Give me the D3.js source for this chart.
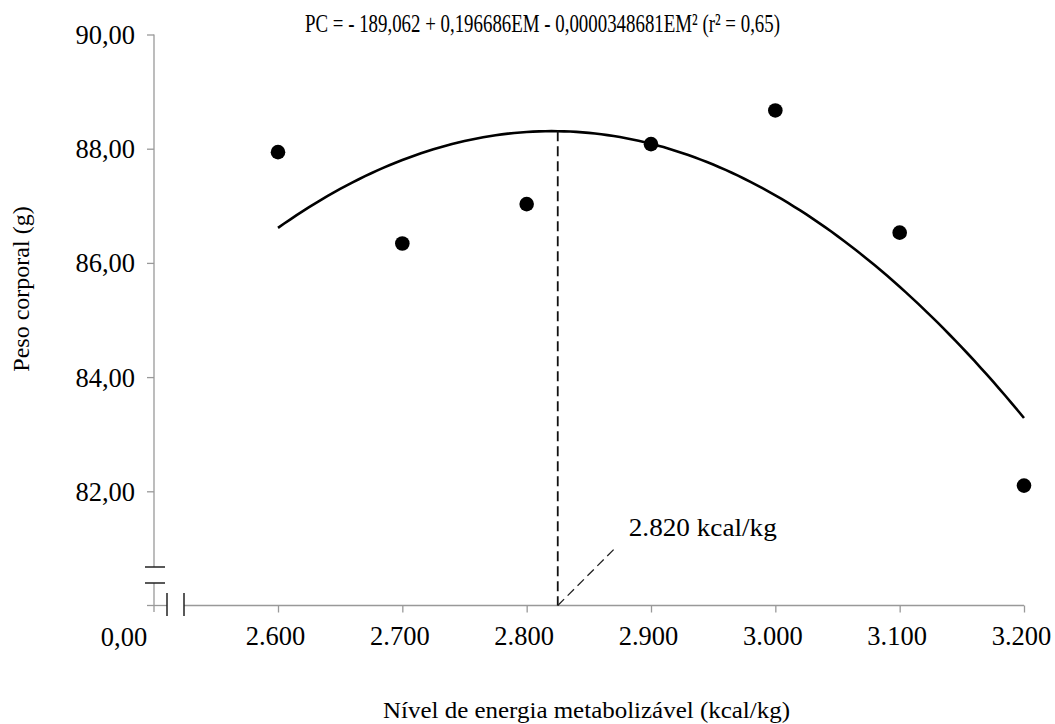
<!DOCTYPE html>
<html lang="pt">
<head>
  <meta charset="utf-8">
  <title></title>
  <script src="https://d3js.org/d3.v7.min.js"></script>
</head>
<style>
body { margin: 0; background: white; }
text { font-family: "Liberation Serif", "Times New Roman", serif; fill: black; }
.tick-label { font-size: 26.5px; }
.axis-line { stroke: #999; stroke-width: 1.3; fill: none; }
.break-mark { stroke: #222; stroke-width: 1.5; }
.trend { stroke: black; stroke-width: 2.6; fill: none; }
.dot { fill: black; }
</style>
<body>
<div class="chart"></div>
<script>
// energia metabolizavel (kcal/kg) e peso corporal (g)
var levels = [2600, 2700, 2800, 2900, 3000, 3100, 3200];
var weights = [87.94, 86.34, 87.03, 88.08, 88.67, 86.53, 82.10];
var xTickLabels = ["2.600", "2.700", "2.800", "2.900", "3.000", "3.100", "3.200"];
var yTicks = [82, 84, 86, 88, 90];
var yTickLabels = ["82,00", "84,00", "86,00", "88,00", "90,00"];
// PC = b0 + b1*EM + b2*EM^2
var coef = [-189.062, 0.196686, -0.0000348681];
var optimumLabel = "2.820 kcal/kg";
var optimumDrawn = 2825; // where the dashed line sits in the figure

var width = 1055, height = 724;
var svg = d3.select(".chart").append("svg")
  .attr("width", width)
  .attr("height", height);

var x = d3.scaleLinear().domain([2600, 3200]).range([278, 1024]);
var y = d3.scaleLinear().domain([80, 90]).range([605.5, 34.5]);

var pc = function(em) { return coef[0] + coef[1]*em + coef[2]*em*em; };

// y axis
var yAxis = svg.append("g")
  .attr("transform", "translate(154,0)")
  .call(d3.axisLeft(y).tickValues(yTicks).tickSize(7).tickFormat(function(d, i){ return yTickLabels[i]; }))
  .attr("font-family", null).attr("font-size", null);
yAxis.select(".domain").remove();
yAxis.selectAll(".tick line").attr("stroke", "#999").attr("stroke-width", 1.3);
yAxis.selectAll(".tick text").attr("class", "tick-label").attr("x", -19).attr("dy", "0.34em");

// y axis line with break
svg.append("line").attr("class", "axis-line")
  .attr("x1", 154).attr("x2", 154).attr("y1", y(90)).attr("y2", 567);
svg.append("line").attr("class", "axis-line")
  .attr("x1", 154).attr("x2", 154).attr("y1", 583).attr("y2", 612);
[567, 583].forEach(function(yy){
  svg.append("line").attr("class", "break-mark")
    .attr("x1", 145).attr("x2", 165).attr("y1", yy).attr("y2", yy);
});

// x axis
var xAxis = svg.append("g")
  .attr("transform", "translate(0," + y(80) + ")")
  .call(d3.axisBottom(x).tickValues(levels).tickSize(7).tickFormat(function(d, i){ return xTickLabels[i]; }))
  .attr("font-family", null).attr("font-size", null);
xAxis.select(".domain").remove();
xAxis.selectAll(".tick line").attr("stroke", "#999").attr("stroke-width", 1.3);
xAxis.selectAll(".tick text").attr("class", "tick-label").attr("y", 21).attr("dy", "0.71em").attr("dx", -3);

svg.append("line").attr("class", "axis-line")
  .attr("x1", 147).attr("x2", 167).attr("y1", y(80)).attr("y2", y(80));
svg.append("line").attr("class", "axis-line")
  .attr("x1", 184).attr("x2", x(3200)).attr("y1", y(80)).attr("y2", y(80));
[167, 184].forEach(function(xx){
  svg.append("line").attr("class", "break-mark")
    .attr("x1", xx).attr("x2", xx).attr("y1", 593).attr("y2", 616);
});
svg.append("text").attr("class", "tick-label")
  .attr("x", 124).attr("y", 646).attr("text-anchor", "middle").text("0,00");

// trend curve
var curvePts = d3.range(2600, 3200.1, 5).map(function(em){ return [em, pc(em)]; });
svg.append("path").attr("class", "trend")
  .attr("d", d3.line().x(function(d){ return x(d[0]); }).y(function(d){ return y(d[1]); })(curvePts));

// optimum dashed line and leader
svg.append("line")
  .attr("x1", x(optimumDrawn)).attr("x2", x(optimumDrawn))
  .attr("y1", y(pc(2820))).attr("y2", y(80))
  .attr("stroke", "#111").attr("stroke-width", 1.8).attr("stroke-dasharray", "10,5");
svg.append("line")
  .attr("x1", x(optimumDrawn)).attr("y1", y(80))
  .attr("x2", x(optimumDrawn + 45)).attr("y2", y(80.98))
  .attr("stroke", "#222").attr("stroke-width", 1.3).attr("stroke-dasharray", "9,5");
svg.append("text")
  .attr("x", x(optimumDrawn) + 71).attr("y", 536)
  .attr("font-size", "25px").attr("textLength", 148).attr("lengthAdjust", "spacingAndGlyphs")
  .text(optimumLabel);

// points
svg.selectAll(".dot").data(levels).enter().append("circle")
  .attr("class", "dot")
  .attr("cx", function(d){ return x(d); })
  .attr("cy", function(d, i){ return y(weights[i]); })
  .attr("r", 7.3);

// equation
svg.append("text")
  .attr("x", 305).attr("y", 32)
  .attr("font-size", "26px").attr("textLength", 475).attr("lengthAdjust", "spacingAndGlyphs")
  .text("PC = - 189,062 + 0,196686EM - 0,0000348681EM\u00b2  (r\u00b2 = 0,65)");

// axis titles
svg.append("text")
  .attr("x", 383).attr("y", 718)
  .attr("font-size", "24px").attr("textLength", 407).attr("lengthAdjust", "spacingAndGlyphs")
  .text("Nível de energia metabolizável (kcal/kg)");
svg.append("text")
  .attr("transform", "translate(29,289) rotate(-90)")
  .attr("text-anchor", "middle")
  .attr("font-size", "24px")
  .text("Peso corporal (g)");
</script>
</body>
</html>
